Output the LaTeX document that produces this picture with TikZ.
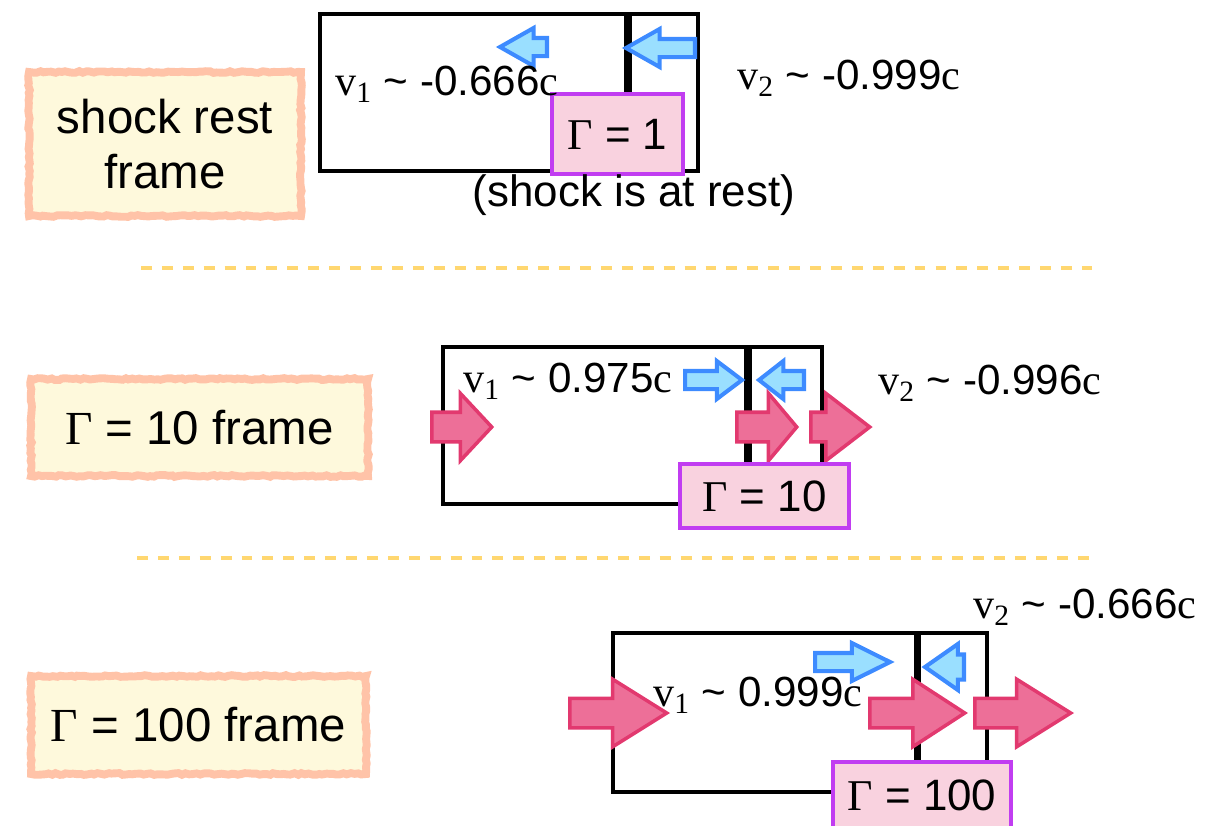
\documentclass[tikz,border=0pt]{standalone}
\usepackage{fontspec}
\setmainfont{Liberation Sans}
\newfontfamily\seriffont{Liberation Serif}
\usepackage{xcolor}
\usetikzlibrary{positioning,shapes.arrows,decorations.pathmorphing,calc}

\definecolor{frameedge}{HTML}{FFC3A8}
\definecolor{framefill}{HTML}{FEF9DC}
\definecolor{gamedge}{HTML}{C13DF1}
\definecolor{gamfill}{HTML}{F9D2DF}
\definecolor{flowedge}{HTML}{E2396F}
\definecolor{flowfill}{HTML}{ED6F98}
\definecolor{veledge}{HTML}{3D8BFF}
\definecolor{velfill}{HTML}{9ADFFF}
\definecolor{sepline}{HTML}{FFD770}

\newcommand{\gam}{{\seriffont Γ}}
\newcommand{\vel}[2]{{\seriffont v\textsubscript{#1}} \textasciitilde\ #2{\seriffont c}}

\begin{document}
\begin{tikzpicture}[
  x=0.02cm, y=-0.02cm,
  framebox/.style={rectangle, draw=frameedge, fill=framefill, line width=4.5pt, inner sep=0pt, align=center,
    font=\fontsize{27}{31}\selectfont, decorate, decoration={random steps, segment length=2pt, amplitude=0.5pt}},
  cell/.style={draw=black, line width=2.3pt},
  shockline/.style={draw=black, line width=4pt},
  gambox/.style={rectangle, draw=gamedge, fill=gamfill, line width=2.2pt, inner sep=0pt, font=\fontsize{25}{30}\selectfont},
  speed/.style={anchor=west, inner sep=0pt, font=\fontsize{24}{28}\selectfont},
  flow/.style={single arrow, draw=flowedge, fill=flowfill, line width=2pt, inner xsep=0pt, inner ysep=0.26cm,
    text height=0pt, text depth=0pt, minimum width=0pt, single arrow head extend=0.38cm, single arrow tip angle=#1, anchor=tail},
  flow/.default=90,
  vflow/.style={single arrow, draw=veledge, fill=velfill, line width=2.3pt, inner xsep=0pt, inner ysep=0.14cm,
    text height=0pt, text depth=0pt, minimum width=0pt, single arrow head extend=0.2cm, single arrow tip angle=#1, anchor=tail},
  vflow/.default=65,
  sep/.style={draw=sepline, line width=2.8pt, dash pattern=on 6.2pt off 5.7pt},
]
\useasboundingbox (0,0) rectangle (1209,825);

% shock rest frame
\node[framebox, minimum width=5.44cm, minimum height=2.88cm] (restlabel) at (165,144) {shock rest\\frame};
\draw[cell] (320,14) rectangle (698,171);
\draw[shockline] (628,14) -- (628,171);
\node[vflow=59, shape border rotate=180, minimum height=0.94cm] (restin) at (549,47) {};
\node[vflow=59, shape border rotate=180, minimum height=1.38cm] (restout) at (697,48) {};
\node[gambox, minimum width=2.62cm, minimum height=1.6cm] (restgam) at (617.5,134) {\gam{} = 1};
\node[speed] (restv1) at (335,84) {\vel{1}{-0.666}};
\node[speed] (restv2) at (737,78) {\vel{2}{-0.999}};
\node[font=\fontsize{25}{30}\selectfont, inner sep=0pt] (restnote) at (634,195) {(shock is at rest)};

% separators
\foreach \y/\xa/\xb in {268/141/1092, 558/137/1090} {
  \draw[sep] (\xa,\y) -- (\xb,\y);
}

% Gamma = 10 frame
\node[framebox, minimum width=6.74cm, minimum height=1.94cm] (tenlabel) at (199.5,427.5) {\gam{} = 10 frame};
\draw[cell] (443,347) rectangle (822,504);
\draw[shockline] (748,347) -- (748,504);
\node[flow=94, minimum height=1.2cm] (tenflowa) at (430,427) {};
\node[flow=100, minimum height=1.2cm] (tenflowb) at (735,427) {};
\node[flow=75, minimum height=1.18cm] (tenflowc) at (809,427) {};
\node[vflow=74, minimum height=1.14cm] (tenin) at (683,380) {};
\node[vflow=76, shape border rotate=180, minimum height=0.9cm] (tenout) at (806,380) {};
\node[gambox, minimum width=3.38cm, minimum height=1.28cm] (tengam) at (764.5,496) {\gam{} = 10};
\node[speed] (tenv1) at (463,381) {\vel{1}{0.975}};
\node[speed] (tenv2) at (878,383) {\vel{2}{-0.996}};

% Gamma = 100 frame
\node[framebox, minimum width=6.7cm, minimum height=1.96cm] (hundlabel) at (198.5,725) {\gam{} = 100 frame};
\draw[cell] (613,633) rectangle (987,792);
\draw[shockline] (917,633) -- (917,792);
\node[flow=64, minimum height=1.94cm] (hundflowa) at (568,713) {};
\node[flow=66, minimum height=1.9cm] (hundflowb) at (868,713) {};
\node[flow=64, minimum height=1.92cm] (hundflowc) at (973,713) {};
\node[vflow=53, minimum height=1.5cm] (hundin) at (813,662) {};
\node[vflow=70, shape border rotate=180, inner ysep=0.21cm, single arrow head extend=0.21cm, minimum height=0.78cm] (hundout) at (966,667) {};
\node[gambox, minimum width=3.56cm, minimum height=1.32cm] (hundgam) at (922,795) {\gam{} = 100};
\node[speed] (hundv1) at (653,695) {\vel{1}{0.999}};
\node[speed] (hundv2) at (973,607) {\vel{2}{-0.666}};
\end{tikzpicture}
\end{document}
